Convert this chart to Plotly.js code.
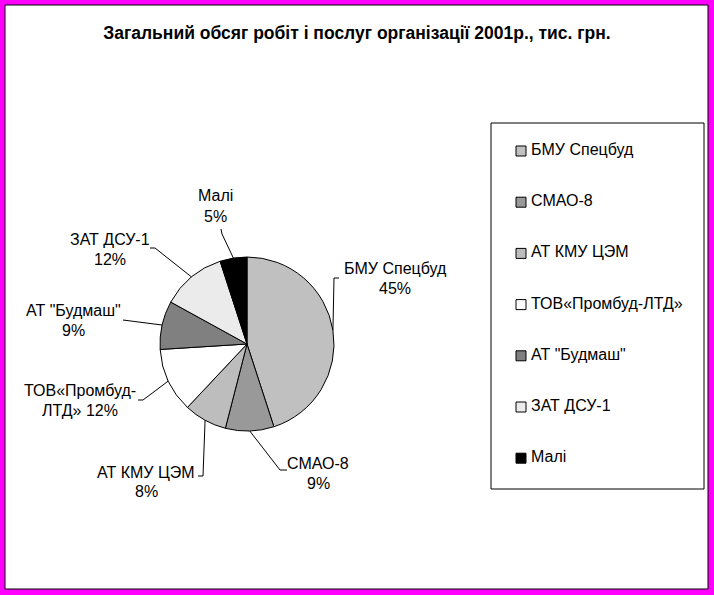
<!DOCTYPE html>
<html>
<head>
<meta charset="utf-8">
<script src="https://cdn.plot.ly/plotly-3.0.1.min.js"></script>
<style>html,body{margin:0;padding:0;background:#fff;}#chart{width:714px;height:595px;}</style>
</head>
<body>
<div id="chart"></div>
<script>
// ---- data ----
const categories = ["БМУ Спецбуд", "СМАО-8", "АТ КМУ ЦЭМ", "ТОВ«Промбуд-ЛТД»", "АТ \"Будмаш\"", "ЗАТ ДСУ-1", "Малі"];
const shares = [45, 9, 8, 12, 9, 12, 5];
// wrapped label lines shown next to the slices (second line gets the percentage appended)
const labelLine1 = ["БМУ Спецбуд", "СМАО-8", "АТ КМУ ЦЭМ", "ТОВ«Промбуд-", "АТ \"Будмаш\"", "ЗАТ ДСУ-1", "Малі"];
const labelLine2Prefix = ["", "", "", "ЛТД» ", "", "", ""];
const sliceColors = ["#c0c0c0", "#999999", "#bdbdbd", "#ffffff", "#808080", "#ebebeb", "#000000"];
const titleText = "Загальний обсяг робіт і послуг організації 2001р., тис. грн.";

// ---- layout constants (pixels) ----
const W = 714, H = 595;
const px = x => x / W, py = y => 1 - y / H;
const pie = {cx: 247, cy: 344, r: 87};
// label centers [x, yFirstLine] and leader elbow / end points
const labelAt = [[395, 268], [318, 463], [146, 472], [80, 390], [73, 310], [110, 239], [215, 196]];
const leaderPts = [
  [[334, 278], [339, 278]],
  [[280, 470], [287, 470]],
  [[203, 476], [198, 476]],
  [[143, 400], [138, 400]],
  [[123, 320], [123, 320]],
  [[155, 248], [150, 248]],
  [[222, 234], [221, 229]]
];
const lineGap = 20;
const FONT = 'Liberation Sans, Arial';

const total = shares.reduce((a, b) => a + b, 0);
const shapes = [];
const annotations = [];

// frame
shapes.push({type: 'rect', xref: 'paper', yref: 'paper', x0: px(5), x1: px(708), y0: py(589), y1: py(5),
  line: {color: '#000', width: 1}, fillcolor: '#ffffff', layer: 'below'});

// slice labels and leader lines
let cum = 0;
shares.forEach((v, i) => {
  const mid = (cum + v / 2) / total * 2 * Math.PI;
  cum += v;
  const ex = pie.cx + pie.r * Math.sin(mid);
  const ey = pie.cy - pie.r * Math.cos(mid);
  const pts = [[ex, ey]].concat(leaderPts[i]);
  let path = 'M ' + pts.map(p => px(p[0]) + ',' + py(p[1])).join(' L ');
  shapes.push({type: 'path', xref: 'paper', yref: 'paper', path: path, line: {color: '#000', width: 1}});
  const pct = Math.round(v / total * 100) + '%';
  annotations.push({xref: 'paper', yref: 'paper', x: px(labelAt[i][0]), y: py(labelAt[i][1]),
    text: labelLine1[i], showarrow: false, xanchor: 'center', yanchor: 'middle',
    font: {family: FONT, size: 16, color: '#000'}});
  annotations.push({xref: 'paper', yref: 'paper', x: px(labelAt[i][0]), y: py(labelAt[i][1] + lineGap),
    text: labelLine2Prefix[i] + pct, showarrow: false, xanchor: 'center', yanchor: 'middle',
    font: {family: FONT, size: 16, color: '#000'}});
});

// legend box
shapes.push({type: 'rect', xref: 'paper', yref: 'paper', x0: px(491), x1: px(704), y0: py(489), y1: py(123),
  line: {color: '#000', width: 1}, fillcolor: 'rgba(0,0,0,0)'});
const legTop = 151, legStep = 51.2;
categories.forEach((c, i) => {
  const y = legTop + i * legStep;
  shapes.push({type: 'rect', xref: 'paper', yref: 'paper', x0: px(516), x1: px(526), y0: py(y + 5), y1: py(y - 5),
    line: {color: '#000', width: 1}, fillcolor: sliceColors[i]});
  annotations.push({xref: 'paper', yref: 'paper', x: px(529), y: py(y - 1.5), text: c, showarrow: false,
    xanchor: 'left', yanchor: 'middle', font: {family: FONT, size: 16, color: '#000'}});
});

const trace = {
  type: 'pie',
  labels: categories,
  values: shares,
  sort: false,
  direction: 'clockwise',
  rotation: 0,
  textinfo: 'none',
  hoverinfo: 'label+percent',
  showlegend: false,
  marker: {colors: sliceColors, line: {color: '#000', width: 1}},
  domain: {x: [px(pie.cx - pie.r), px(pie.cx + pie.r)], y: [py(pie.cy + pie.r), py(pie.cy - pie.r)]}
};

const layout = {
  width: W, height: H,
  margin: {l: 0, r: 0, t: 0, b: 0},
  paper_bgcolor: '#ff00ff',
  plot_bgcolor: '#ffffff',
  showlegend: false,
  title: {text: '<b>' + titleText + '</b>', x: 0.5, xanchor: 'center', y: py(33), yanchor: 'middle',
    font: {family: FONT, size: 17.5, color: '#000'}},
  shapes: shapes,
  annotations: annotations
};

Plotly.newPlot('chart', [trace], layout, {displayModeBar: false, staticPlot: true});
</script>
</body>
</html>
